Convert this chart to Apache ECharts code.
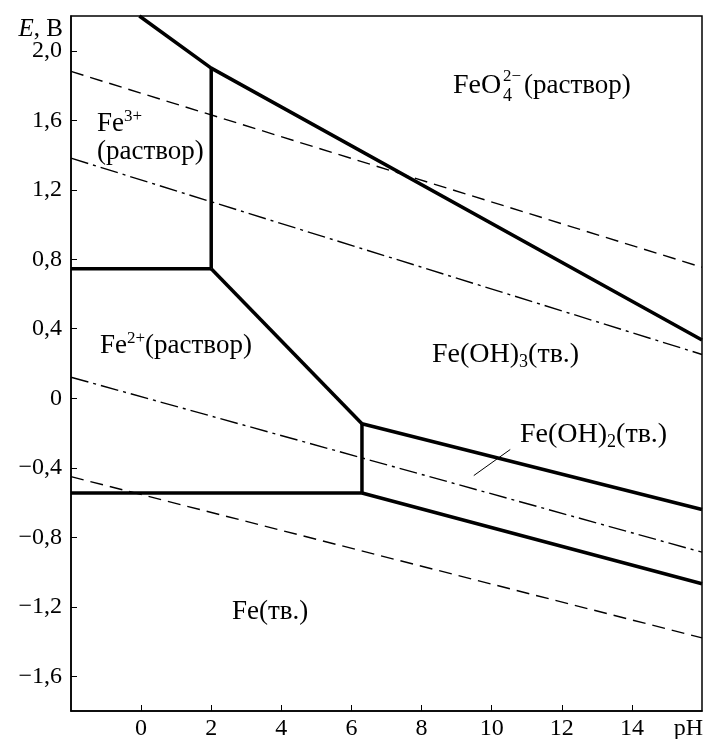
<!DOCTYPE html>
<html>
  <head>
    <meta charset="utf-8" />
    <title>Диаграмма Пурбе для железа</title>
    <script src="https://cdn.jsdelivr.net/npm/echarts@6/dist/echarts.min.js"></script>
    <style type="text/css">
      html, body { margin: 0; padding: 0; background: #fff; }
    </style>
  </head>
  <body>
    <div id="main" style="width: 706px; height: 739px"></div>
    <script type="text/javascript">
      // тики осей
      var phTicks = [0, 2, 4, 6, 8, 10, 12, 14];
      var eTicks = [-1.6, -1.2, -0.8, -0.4, 0, 0.4, 0.8, 1.2, 1.6, 2.0];

      // жирные границы областей (pH, E)
      var feo4Border = [[-0.05, 2.2], [2, 1.9], [16, 0.335]];
      var fe3Vertical = [[2, 1.9], [2, 0.745]];
      var fe3Fe2 = [[-2, 0.745], [2, 0.745]];
      var fe2FeOH3 = [[2, 0.745], [6.3, -0.147]];
      var feOH2FeOH3 = [[6.3, -0.147], [16, -0.64]];
      var fe2FeOH2 = [[6.3, -0.147], [6.3, -0.545]];
      var feFe2 = [[-2, -0.545], [6.3, -0.545]];
      var feFeOH2 = [[6.3, -0.545], [16, -1.068]];

      // пунктир (границы устойчивости воды)
      var waterUpper = [[-2, 1.881], [16, 0.754]];
      var waterLower = [[-2, -0.451], [16, -1.379]];

      // штрих-пунктир
      var dotUpper = [[-2, 1.382], [16, 0.252]];
      var dotLower = [[-2, 0.121], [16, -0.886]];

      // выноска для Fe(OH)2
      var leader = [[9.49, -0.445], [10.53, -0.295]];

      var myChart = echarts.init(document.getElementById("main"));
      var serif = "Liberation Serif";

      function line(data, width, type) {
        return {
          type: "line",
          data: data,
          symbol: "none",
          silent: true,
          animation: false,
          lineStyle: { color: "#000", width: width, type: type || "solid" },
        };
      }

      function fmtE(v) {
        if (Math.abs(v) < 0.001) return "0";
        var s = Math.abs(v).toFixed(1).replace(".", ",");
        return v < 0 ? "\u2212" + s : s;
      }

      function richFor(size) {
        return {
          m: { fontFamily: serif, fontSize: size, lineHeight: size + 4, fill: "#000" },
          sup: { fontFamily: serif, fontSize: 17, lineHeight: 17, verticalAlign: "top", fill: "#000" },
          sub: { fontFamily: serif, fontSize: 18, lineHeight: 18, verticalAlign: "bottom", fill: "#000" },
        };
      }

      function label(x, y, text, size) {
        size = size || 27;
        return {
          type: "text",
          x: x,
          y: y,
          style: {
            text: text,
            rich: richFor(size),
            font: size + "px " + serif,
            fill: "#000",
            verticalAlign: "middle",
          },
        };
      }

      option = {
        animation: false,
        grid: {
          left: 71,
          right: 4,
          top: 16,
          bottom: 28,
          outerBoundsMode: "none",
          show: true,
          borderColor: "#000",
          borderWidth: 1.5,
        },
        xAxis: {
          type: "value",
          min: -2,
          max: 16,
          interval: 2,
          splitLine: { show: false },
          axisLine: { onZero: false, lineStyle: { color: "#000", width: 1.5 } },
          axisTick: { inside: true, length: 6, customValues: phTicks, lineStyle: { color: "#000" } },
          axisLabel: {
            customValues: phTicks,
            margin: 6,
            color: "#000",
            fontFamily: serif,
            fontSize: 24,
          },
        },
        yAxis: {
          type: "value",
          min: -1.8,
          max: 2.2,
          splitLine: { show: false },
          axisLine: { onZero: false, lineStyle: { color: "#000", width: 1.5 } },
          axisTick: { inside: true, length: 6, customValues: eTicks, lineStyle: { color: "#000" } },
          axisLabel: {
            customValues: eTicks,
            margin: 9,
            color: "#000",
            fontFamily: serif,
            fontSize: 24,
            formatter: fmtE,
          },
        },
        series: [
          line(feo4Border, 3.5),
          line(fe3Vertical, 3.5),
          line(fe3Fe2, 3.5),
          line(fe2FeOH3, 3.5),
          line(feOH2FeOH3, 3.5),
          line(fe2FeOH2, 3.5),
          line(feFe2, 3.5),
          line(feFeOH2, 3.5),
          line(waterUpper, 1.4, [13, 7]),
          line(waterLower, 1.4, [13, 7]),
          line(dotUpper, 1.4, [18, 5, 3, 5]),
          line(dotLower, 1.4, [18, 5, 3, 5]),
          line(leader, 1),
        ],
        graphic: [
          // подписи осей
          {
            type: "text",
            x: 63,
            y: 29,
            style: {
              text: "{i|E}, В",
              rich: { i: { fontStyle: "italic", fontFamily: serif, fontSize: 25, fill: "#000" } },
              font: "25px " + serif,
              fill: "#000",
              align: "right",
              verticalAlign: "middle",
            },
          },
          {
            type: "text",
            x: 703,
            y: 729,
            style: { text: "pH", font: "24px " + serif, fill: "#000", align: "right", verticalAlign: "middle" },
          },
          // подписи областей
          label(453, 86, "FeO", 28),
          { type: "text", x: 503, y: 77, style: { text: "2\u2212", font: "17px " + serif, fill: "#000", verticalAlign: "middle" } },
          { type: "text", x: 503, y: 96, style: { text: "4", font: "18px " + serif, fill: "#000", verticalAlign: "middle" } },
          label(524, 86, "(раствор)"),
          label(97, 124, "{m|Fe}{sup|3+}"),
          label(97, 152, "(раствор)"),
          label(100, 346, "{m|Fe}{sup|2+}{m|(раствор)}"),
          label(432, 355, "{m|Fe(OH)}{sub|3}{m|(тв.)}", 28),
          label(520, 435, "{m|Fe(OH)}{sub|2}{m|(тв.)}", 28),
          label(232, 612, "Fe(тв.)"),
        ],
      };

      myChart.setOption(option);
    </script>
  </body>
</html>
